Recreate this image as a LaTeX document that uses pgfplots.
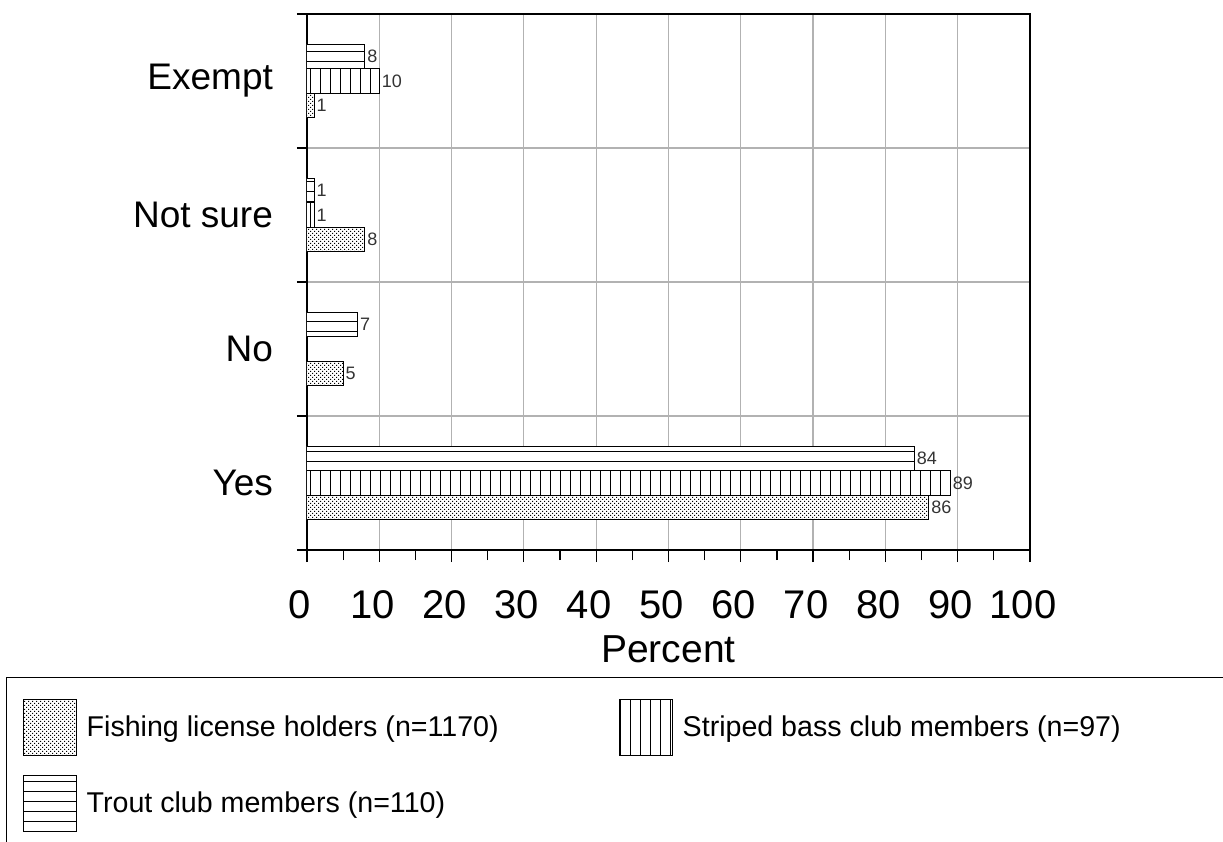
\documentclass[border=0pt]{standalone}
\usepackage{fontspec}
\setmainfont{Liberation Sans}
\usepackage{pgfplots}
\pgfplotsset{compat=1.18}
\usetikzlibrary{patterns,patterns.meta}
\pgfdeclarepatternformonly{finedots}{\pgfqpoint{-0.1pt}{-0.1pt}}{\pgfqpoint{2.1pt}{2.1pt}}{\pgfqpoint{2pt}{2pt}}{%
 \pgfpathrectangle{\pgfqpoint{0pt}{0pt}}{\pgfqpoint{0.55pt}{0.55pt}}%
 \pgfpathrectangle{\pgfqpoint{1pt}{1pt}}{\pgfqpoint{0.55pt}{0.55pt}}%
 \pgfusepath{fill}}
\pgfplotsset{
  mylegend/.style={legend image code/.code={\draw[##1] (0pt,-14pt) rectangle (26.5pt,14pt);}},
  mybar/.style={draw=black, line width=0.5pt, fill=white, mylegend},
}
\begin{document}
\begin{tikzpicture}
\useasboundingbox (0,0) rectangle (611.5pt,421pt);
\begin{axis}[
  at={(153.5pt,146pt)}, anchor=south west,
  scale only axis, width=361.5pt, height=268pt,
  xbar, bar width=0.183,
  xmin=0, xmax=100, ymin=-0.5, ymax=3.5,
  xtick={0,10,...,100}, minor x tick num=1,
  ytick={0,1,2,3}, yticklabels={Yes,No,Not sure,Exempt},
  minor ytick={-0.5,0.5,1.5,2.5,3.5},
  xmajorgrids, yminorgrids,
  grid style={gray!60, line width=0.6pt},
  major y tick style={draw=none},
  tick pos=left, tick align=outside,
  major tick length=6pt, minor tick length=5pt,
  tick style={black, line width=0.6pt},
  axis line style={line width=0.7pt},
  /pgf/number format/assume math mode=true,
  xticklabel style={font=\fontsize{20}{20}\selectfont, yshift=-11pt, xshift=-3.5pt},
  yticklabel style={font=\fontsize{18.5}{20}\selectfont, xshift=-7.5pt},
  xlabel={Percent},
  xlabel style={font=\fontsize{19.5}{20}\selectfont, at={(axis description cs:0.5,-0.2108)}, anchor=base},
  nodes near coords, point meta=x,
  every node near coord/.append style={font=\fontsize{9}{9}\selectfont, text=black!80, anchor=west, inner sep=1pt},
  legend columns=2,
  legend cell align=left,
  legend style={at={(axis description cs:-0.4163,-0.2369)}, anchor=north west, draw=black, line width=0.7pt,
    inner xsep=8pt, inner ysep=10.5pt, font=\fontsize{14.3}{17}\selectfont, row sep=9.5pt,
    nodes={inner sep=0pt},
    /tikz/every odd column/.append style={column sep=5pt},
    /tikz/every even column/.append style={column sep=60pt}},
]
\addplot[mybar, postaction={pattern=finedots}, bar shift=-0.183] coordinates {(86,0) (5,1) (8,2) (1,3)};
\addplot[mybar, postaction={pattern={Lines[angle=90,distance=5pt,line width=0.5pt]}}, bar shift=0] coordinates {(89,0) (1,2) (10,3)};
\addplot[mybar, postaction={pattern={Lines[angle=0,distance=5pt,line width=0.5pt]}}, bar shift=0.183] coordinates {(84,0) (7,1) (1,2) (8,3)};
\legend{Fishing license holders (n=1170), Striped bass club members (n=97)\hspace{60pt}\mbox{}, Trout club members (n=110)}
\end{axis}
\end{tikzpicture}
\end{document}
